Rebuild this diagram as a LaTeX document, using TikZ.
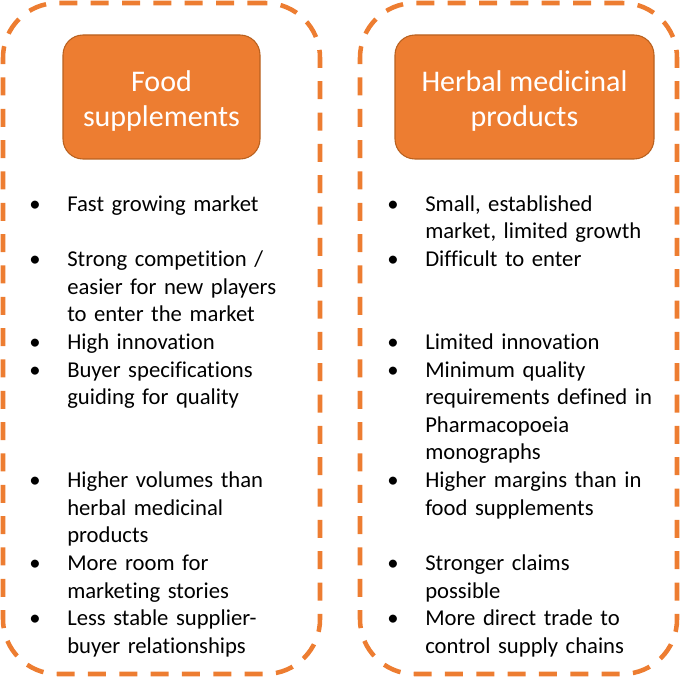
\documentclass[tikz,border=0pt]{standalone}
\usepackage{fontspec}
\setmainfont{Carlito}[Ligatures=NoCommon]
\definecolor{org}{HTML}{ED7D31}
\definecolor{orgdk}{HTML}{B9611F}
\newcommand{\bodyfont}{\fontsize{17}{20.72}\selectfont}
\newcommand{\headfont}{\fontsize{22.5}{26.5}\selectfont}
\tikzset{
  panel/.style={draw=org,line width=3.4pt,dash pattern=on 13.5pt off 10pt,rounded corners=41pt,
    minimum width=237.75pt,minimum height=503.25pt,inner sep=0pt},
  head/.style={draw=orgdk,line width=0.8pt,fill=org,rounded corners=15pt,minimum height=93pt,inner sep=0pt},
  htxt/.style={text=white,align=center,font=\headfont,inner sep=0pt,yshift=-3pt},
  itm/.style={anchor=north west,inner sep=0pt,text width=190pt,align=left,font=\bodyfont,
    label={[anchor=north,inner sep=0pt,font=\bodyfont,xshift=-24pt]north west:\strut\textbullet}},
}
\begin{document}
\begin{tikzpicture}[x=0.75pt,y=-0.75pt]
  \useasboundingbox (0,0) rectangle (681,677);
  \node[panel] (fp) at (161.5,338.5) {};
  \node[panel] (hp) at (518.5,338.5) {};
  \node[head,minimum width=147.75pt,label={[htxt]center:{Food\\supplements}}] (fh) at (161.5,97) {};
  \node[head,minimum width=194.25pt,label={[htxt]center:{Herbal medicinal\\products}}] (hh) at (524.5,97) {};
  % food supplements
  \node[itm] (f1) at (67,191.7) {\strut Fast growing market};
  \node[itm] (f2) at (67,247.0) {\strut Strong competition /\\easier for new players\\to enter the market};
  \node[itm] (f3) at (67,329.8) {\strut High innovation};
  \node[itm] (f4) at (67,357.5) {\strut Buyer specifications\\guiding for quality};
  \node[itm] (f5) at (67,467.9) {\strut Higher volumes than\\herbal medicinal\\products};
  \node[itm] (f6) at (67,550.8) {\strut More room for\\marketing stories};
  \node[itm] (f7) at (67,606.1) {\strut Less stable supplier-\\buyer relationships};
  % herbal medicinal products
  \node[itm] (h1) at (425,191.7) {\strut Small, established\\market, limited growth};
  \node[itm] (h2) at (425,247.0) {\strut Difficult to enter};
  \node[itm] (h3) at (425,329.8) {\strut Limited innovation};
  \node[itm] (h4) at (425,357.5) {\strut Minimum quality\\requirements defined in\\Pharmacopoeia\\monographs};
  \node[itm] (h5) at (425,467.9) {\strut Higher margins than in\\food supplements};
  \node[itm] (h6) at (425,550.8) {\strut Stronger claims\\possible};
  \node[itm] (h7) at (425,606.1) {\strut More direct trade to\\control supply chains};
\end{tikzpicture}
\end{document}
